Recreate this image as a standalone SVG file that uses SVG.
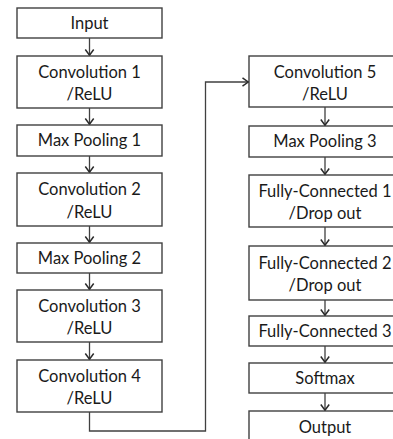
<svg xmlns="http://www.w3.org/2000/svg" width="393" height="439" viewBox="0 0 393 439">
<defs>
<style>
.box{fill:#fff;stroke:#404040;stroke-width:1.4}
.t{font-family:Lato,"Open Sans","Liberation Sans",sans-serif;font-size:16.5px;fill:#1a1a1a;text-anchor:middle}
.c{fill:none;stroke:#404040;stroke-width:1.3}
</style>
<marker id="ah" viewBox="0 0 12 12" refX="11" refY="6" markerWidth="12" markerHeight="12" markerUnits="userSpaceOnUse" orient="auto">
<path d="M4.5,1.8 L10.2,6 L4.5,10.2" fill="none" stroke="#2a2a2a" stroke-width="1.5"/>
</marker>
</defs>
<rect width="393" height="439" fill="#fff"/>
<g id="connectors">
<line class="c" x1="89.5" y1="38" x2="89.5" y2="56" marker-end="url(#ah)"/>
<line class="c" x1="89.5" y1="108" x2="89.5" y2="125" marker-end="url(#ah)"/>
<line class="c" x1="89.5" y1="156" x2="89.5" y2="173" marker-end="url(#ah)"/>
<line class="c" x1="89.5" y1="226" x2="89.5" y2="243" marker-end="url(#ah)"/>
<line class="c" x1="89.5" y1="273" x2="89.5" y2="290" marker-end="url(#ah)"/>
<line class="c" x1="89.5" y1="342" x2="89.5" y2="360" marker-end="url(#ah)"/>
<polyline class="c" points="89.5,412 89.5,431 205.5,431 205.5,82 249,82" marker-end="url(#ah)"/>
<line class="c" x1="325" y1="107" x2="325" y2="126" marker-end="url(#ah)"/>
<line class="c" x1="325" y1="157" x2="325" y2="175" marker-end="url(#ah)"/>
<line class="c" x1="325" y1="227" x2="325" y2="246" marker-end="url(#ah)"/>
<line class="c" x1="325" y1="300" x2="325" y2="316" marker-end="url(#ah)"/>
<line class="c" x1="325" y1="346" x2="325" y2="363" marker-end="url(#ah)"/>
<line class="c" x1="325" y1="393" x2="325" y2="411" marker-end="url(#ah)"/>
</g>
<g id="input"><rect class="box" x="17" y="8" width="145" height="30"/><text class="t" x="89.5" y="29">Input</text></g>
<g id="conv1"><rect class="box" x="17" y="56" width="145" height="52"/><text class="t" x="89.5" y="78">Convolution 1</text><text class="t" x="89.5" y="100">/ReLU</text></g>
<g id="pool1"><rect class="box" x="17" y="125" width="145" height="31"/><text class="t" x="89.5" y="146">Max Pooling 1</text></g>
<g id="conv2"><rect class="box" x="17" y="173" width="145" height="53"/><text class="t" x="89.5" y="195">Convolution 2</text><text class="t" x="89.5" y="218">/ReLU</text></g>
<g id="pool2"><rect class="box" x="17" y="243" width="145" height="30"/><text class="t" x="89.5" y="264">Max Pooling 2</text></g>
<g id="conv3"><rect class="box" x="17" y="290" width="145" height="52"/><text class="t" x="89.5" y="312">Convolution 3</text><text class="t" x="89.5" y="334">/ReLU</text></g>
<g id="conv4"><rect class="box" x="17" y="360" width="145" height="52"/><text class="t" x="89.5" y="382">Convolution 4</text><text class="t" x="89.5" y="404">/ReLU</text></g>
<g id="conv5"><rect class="box" x="249" y="56" width="152" height="51"/><text class="t" x="325" y="78">Convolution 5</text><text class="t" x="325" y="100">/ReLU</text></g>
<g id="pool3"><rect class="box" x="249" y="126" width="152" height="31"/><text class="t" x="325" y="147">Max Pooling 3</text></g>
<g id="fc1"><rect class="box" x="249" y="175" width="152" height="52"/><text class="t" x="325" y="197">Fully-Connected 1</text><text class="t" x="325" y="219">/Drop out</text></g>
<g id="fc2"><rect class="box" x="249" y="246" width="152" height="54"/><text class="t" x="325" y="269">Fully-Connected 2</text><text class="t" x="325" y="291">/Drop out</text></g>
<g id="fc3"><rect class="box" x="249" y="316" width="152" height="30"/><text class="t" x="325" y="337">Fully-Connected 3</text></g>
<g id="softmax"><rect class="box" x="249" y="363" width="152" height="30"/><text class="t" x="325" y="384">Softmax</text></g>
<g id="output"><rect class="box" x="249" y="411" width="152" height="34"/><text class="t" x="325" y="433">Output</text></g>
</svg>
